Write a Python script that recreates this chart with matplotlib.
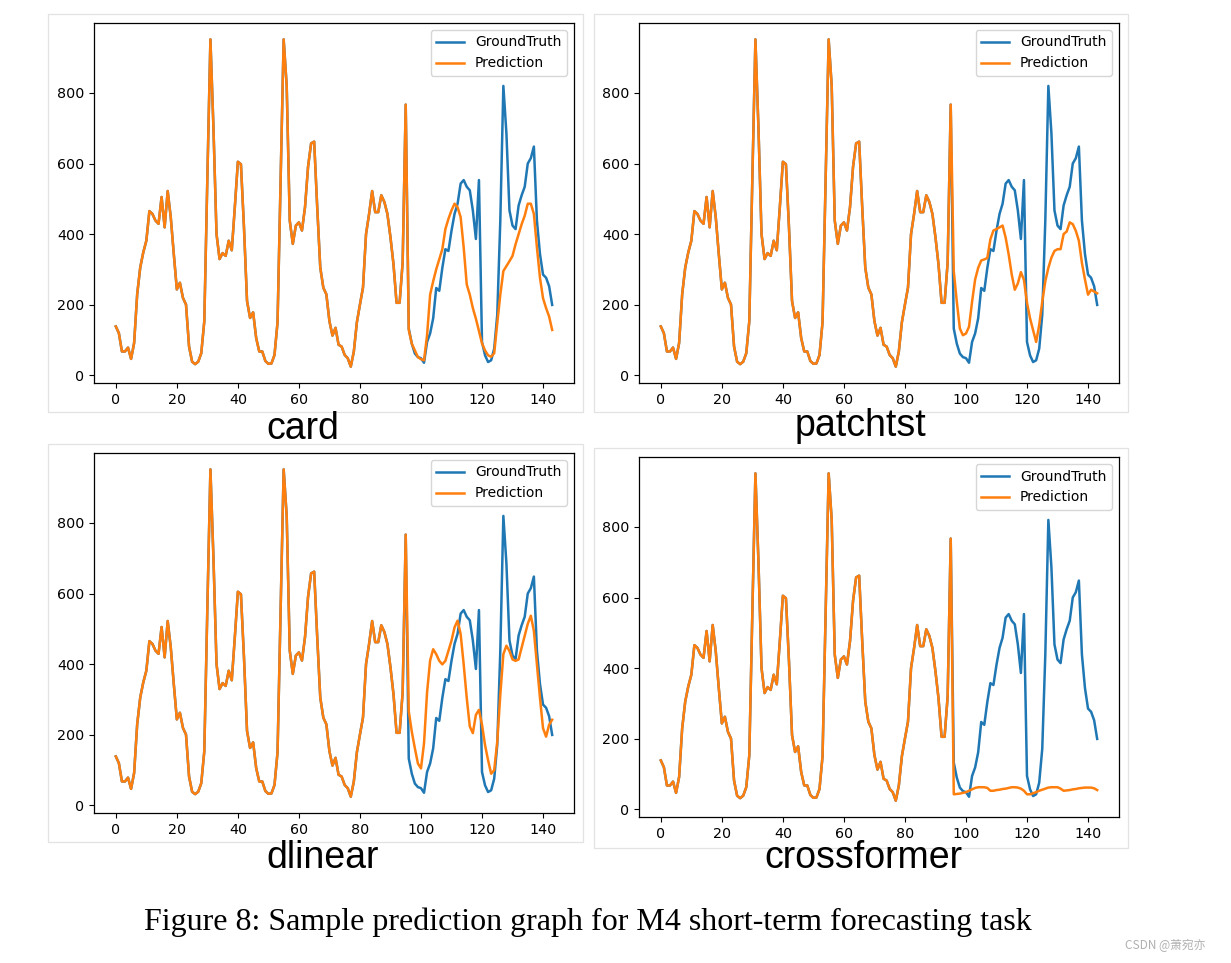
import matplotlib
matplotlib.use("Agg")
import matplotlib.pyplot as plt
import numpy as np
from matplotlib.patches import Rectangle

# ---------------- data ----------------
history = [138, 119, 67, 67, 78, 46, 91, 229, 305, 348,
           381, 465, 457, 438, 429, 505, 419, 522, 448, 343,
           243, 262, 219, 200, 81, 38, 31, 38, 62, 153,
           560, 952, 700, 400, 329, 346, 338, 381, 354, 476,
           605, 598, 419, 210, 162, 178, 105, 67, 67, 40,
           32, 33, 57, 150, 545, 952, 820, 438, 372, 424,
           433, 410, 476, 591, 657, 662, 476, 305, 248, 229,
           153, 112, 134, 86, 81, 57, 48, 24, 67, 150,
           200, 248, 400, 457, 522, 462, 462, 510, 491, 457,
           391, 314, 205, 205, 320, 767]

truth_future = [132, 89, 61, 51, 48, 35, 94, 118, 161, 247,
                239, 304, 357, 352, 409, 457, 486, 543, 553, 534,
                524, 467, 386, 553, 94, 56, 37, 42, 75, 171,
                438, 820, 686, 467, 424, 414, 481, 510, 534, 600,
                615, 648, 438, 343, 285, 276, 252, 199]

pred_card = [128, 89, 70, 51, 45, 42, 113, 228, 266, 300,
             328, 357, 414, 443, 467, 486, 476, 448, 362, 257,
             228, 190, 160, 125, 90, 70, 56, 52, 62, 147,
             228, 295, 309, 323, 338, 371, 400, 428, 452, 486,
             486, 457, 362, 276, 218, 190, 166, 128]

pred_patchtst = [295, 208, 132, 113, 118, 137, 208, 271, 304, 325,
                 328, 332, 385, 410, 414, 419, 424, 390, 342, 285,
                 242, 260, 292, 270, 205, 161, 127, 94, 142, 208,
                 266, 304, 333, 352, 357, 357, 400, 407, 433, 428,
                 409, 381, 318, 271, 228, 242, 237, 232]

pred_dlinear = [266, 208, 161, 118, 104, 175, 320, 410, 442, 428,
                409, 399, 409, 437, 466, 504, 523, 485, 399, 304,
                223, 204, 256, 270, 228, 170, 127, 89, 99, 180,
                313, 428, 452, 437, 413, 409, 413, 447, 480, 514,
                537, 494, 399, 304, 218, 194, 228, 242]

pred_crossformer = [42, 43, 44, 46, 48, 52, 56, 60, 62, 62,
                    62, 60, 52, 52, 54, 55, 57, 58, 60, 62,
                    62, 61, 58, 52, 42, 42, 45, 48, 52, 55,
                    58, 61, 62, 62, 62, 58, 52, 53, 54, 56,
                    57, 59, 60, 61, 61, 61, 59, 54]

model_names = ["card", "patchtst", "dlinear", "crossformer"]
predictions = [pred_card, pred_patchtst, pred_dlinear, pred_crossformer]
caption = "Figure 8: Sample prediction graph for M4 short-term forecasting task"
watermark = "CSDN @萧宛亦"

# ---------------- layout ----------------
W, H = 1231, 963
fig = plt.figure(figsize=(W / 100, H / 100), dpi=100)
fig.patch.set_facecolor("white")


def rect_px(l, t, r, b):
    return [l / W, 1 - b / H, (r - l) / W, (b - t) / H]


axes_px = [(94, 23, 574, 383), (639, 23, 1119, 383),
           (94, 453, 574, 813), (639, 457, 1119, 817)]
frames_px = [(48, 14, 583, 412), (594, 14, 1128, 412),
             (48, 444, 583, 842), (594, 448, 1128, 848)]
label_px = [(303, 429), (860, 426), (323, 858), (863, 858)]

for (fl, ft, fr, fb) in frames_px:
    fig.patches.append(Rectangle((fl / W, 1 - fb / H), (fr - fl) / W, (fb - ft) / H,
                                 transform=fig.transFigure, fill=False,
                                 edgecolor="#e2e2e2", linewidth=0.9))

truth_full = np.array(history + truth_future, dtype=float)
x = np.arange(len(truth_full))

for name, pred, apx, lpx in zip(model_names, predictions, axes_px, label_px):
    ax = fig.add_axes(rect_px(*apx))
    pred_full = np.array(history + pred, dtype=float)
    ax.plot(x, truth_full, color="#1f77b4", lw=1.8, label="GroundTruth")
    ax.plot(x, pred_full, color="#ff7f0e", lw=1.8, label="Prediction")
    ax.set_xticks(np.arange(0, 141, 20))
    ax.set_yticks(np.arange(0, 801, 200))
    ax.tick_params(labelsize=10.3, width=0.8, length=3.4)
    for s in ax.spines.values():
        s.set_linewidth(0.9)
    ax.legend(loc="upper right", fontsize=10)
    fig.text(lpx[0] / W, 1 - lpx[1] / H, name, ha="center", va="center",
             fontsize=27, family="Liberation Sans")

fig.text(588 / W, 1 - 922 / H, caption, ha="center", va="center",
         fontsize=23, family="Liberation Serif")
fig.text(1165 / W, 1 - 945 / H, watermark, ha="center", va="center",
         fontsize=8.5, color="#b0b0b0", family=["Noto Sans CJK SC", "DejaVu Sans"])

fig.savefig("out.png", dpi=100)
